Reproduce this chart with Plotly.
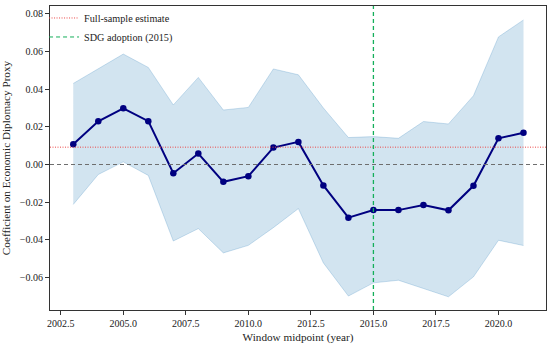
import plotly.graph_objects as go

years = list(range(2003, 2022))
coef = [0.0107, 0.0229, 0.0298, 0.0230, -0.0046, 0.0058, -0.0092, -0.0062, 0.0090, 0.0120,
        -0.0111, -0.0282, -0.0242, -0.0242, -0.0215, -0.0243, -0.0113, 0.0139, 0.0168]
upper = [0.0430, 0.0510, 0.0586, 0.0515, 0.0316, 0.0462, 0.0289, 0.0303, 0.0507, 0.0476,
         0.0300, 0.0143, 0.0148, 0.0139, 0.0228, 0.0215, 0.0365, 0.0677, 0.0767]
lower = [-0.0212, -0.0053, 0.0014, -0.0058, -0.0406, -0.0340, -0.0469, -0.0429, -0.0335, -0.0234,
         -0.0522, -0.0698, -0.0628, -0.0614, -0.0658, -0.0702, -0.0596, -0.0402, -0.0430]
full_sample = 0.0092
sdg_year = 2015

FONT = "Liberation Serif, Times New Roman, serif"
RED = "rgb(235,70,70)"
GREEN = "rgb(20,175,90)"
GRAY = "rgb(110,110,110)"

fig = go.Figure()
fig.add_trace(go.Scatter(x=years, y=lower, mode="lines",
                         line=dict(color="rgba(31,119,180,0.22)", width=1),
                         showlegend=False, hoverinfo="skip"))
fig.add_trace(go.Scatter(x=years, y=upper, mode="lines", fill="tonexty",
                         fillcolor="rgba(31,119,180,0.2)",
                         line=dict(color="rgba(31,119,180,0.22)", width=1),
                         showlegend=False, hoverinfo="skip"))

fig.add_hline(y=0, line_color=GRAY, line_width=1, line_dash="4px,3px", layer="above")
fig.add_hline(y=full_sample, line_color=RED, line_width=1, line_dash="1px,1.5px", layer="above")
fig.add_vline(x=sdg_year, line_color=GREEN, line_width=1.3, line_dash="4px,3px", layer="above")

# legend-only entries
fig.add_trace(go.Scatter(x=[None], y=[None], mode="lines", name="Full-sample estimate",
                         line=dict(color=RED, width=1, dash="1px,1.5px")))
fig.add_trace(go.Scatter(x=[None], y=[None], mode="lines", name="SDG adoption (2015)",
                         line=dict(color=GREEN, width=1, dash="4px,3px")))

fig.add_trace(go.Scatter(x=years, y=coef, mode="lines+markers",
                         line=dict(color="#000080", width=2),
                         marker=dict(color="#000080", size=6.5),
                         showlegend=False))

axis_common = dict(showline=True, linecolor="#333333", linewidth=1.2, mirror=True,
                   ticks="outside", ticklen=4, tickcolor="#333333", showgrid=False,
                   zeroline=False, tickfont=dict(family=FONT, size=10, color="#222222"))

fig.update_layout(
    width=550, height=346,
    margin=dict(l=50, r=4, t=5, b=36),
    paper_bgcolor="white", plot_bgcolor="white",
    font=dict(family=FONT, color="#222222"),
    xaxis=dict(range=[2002.07, 2021.9], tick0=2002.5, dtick=2.5, tickformat=".1f",
               title=dict(text="Window midpoint (year)", font=dict(family=FONT, size=11.2), standoff=5),
               **axis_common),
    yaxis=dict(range=[-0.0772, 0.0841], tick0=0, dtick=0.02, tickformat=".2f",
               title=dict(text="Coefficient on Economic Diplomacy Proxy", font=dict(family=FONT, size=11.2), standoff=8),
               **axis_common),
    legend=dict(x=-0.012, y=1.005, xanchor="left", yanchor="top", bgcolor="rgba(255,255,255,0)",
                font=dict(family=FONT, size=10.2), tracegroupgap=0, itemwidth=30,
                traceorder="normal"),
)

fig.write_html("out.html", config={"displayModeBar": False},
               post_script="document.body.style.margin='0';")
